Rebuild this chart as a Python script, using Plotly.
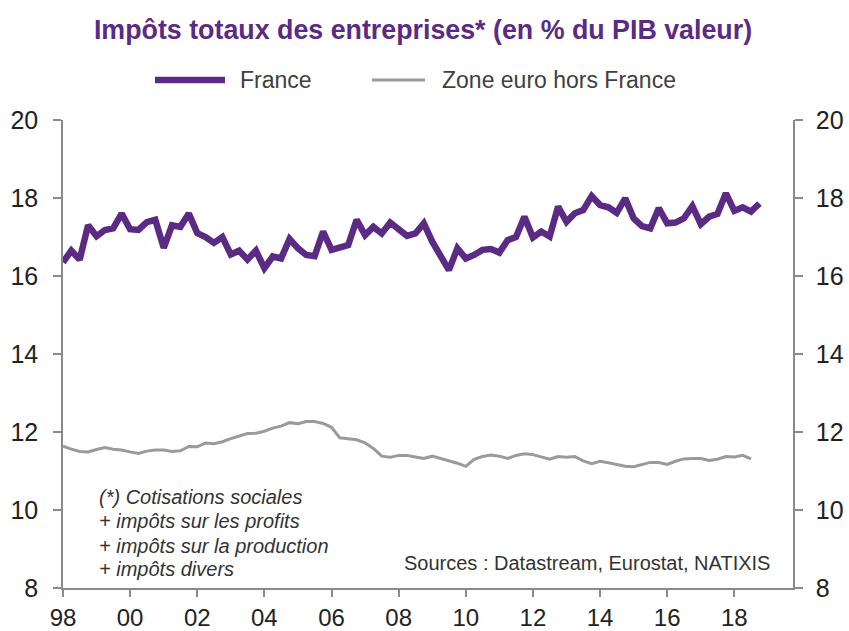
import pandas as pd
import plotly.graph_objects as go

# Quarterly data, 1998Q1 onward
start_quarter = "1998-01-01"

france = [16.35, 16.65, 16.42, 17.30, 17.02, 17.18, 17.22, 17.60, 17.20, 17.18,
          17.38, 17.44, 16.72, 17.30, 17.26, 17.60, 17.10, 17.00, 16.85, 17.00,
          16.55, 16.65, 16.42, 16.65, 16.20, 16.50, 16.45, 16.95, 16.71, 16.54,
          16.51, 17.14, 16.67, 16.75, 16.79, 17.44, 17.05, 17.26, 17.09, 17.37,
          17.22, 17.03, 17.09, 17.35, 16.88, 16.54, 16.15, 16.71, 16.45, 16.54,
          16.67, 16.69, 16.60, 16.92, 17.00, 17.52, 16.99, 17.14, 17.01, 17.78,
          17.39, 17.61, 17.69, 18.05, 17.82, 17.76, 17.62, 17.99, 17.48, 17.28,
          17.22, 17.74, 17.35, 17.37, 17.48, 17.79, 17.33, 17.52, 17.59, 18.12,
          17.67, 17.76, 17.65, 17.86]

zone_euro = [11.64, 11.56, 11.50, 11.49, 11.55, 11.60, 11.56, 11.54, 11.49, 11.45,
             11.51, 11.54, 11.54, 11.50, 11.52, 11.63, 11.62, 11.72, 11.70, 11.75,
             11.83, 11.90, 11.96, 11.97, 12.02, 12.10, 12.15, 12.24, 12.21, 12.27,
             12.27, 12.22, 12.12, 11.85, 11.83, 11.80, 11.72, 11.58, 11.38, 11.35,
             11.40, 11.40, 11.36, 11.32, 11.38, 11.32, 11.27, 11.20, 11.12, 11.30,
             11.37, 11.41, 11.38, 11.32, 11.40, 11.44, 11.42, 11.35, 11.30, 11.37,
             11.35, 11.37, 11.26, 11.19, 11.25, 11.21, 11.16, 11.12, 11.11, 11.16,
             11.22, 11.22, 11.17, 11.25, 11.31, 11.32, 11.32, 11.27, 11.30, 11.37,
             11.36, 11.40, 11.31]

series_names = ["France", "Zone euro hors France"]
year_ticks = [str(y) for y in range(1998, 2019, 2)]
year_labels = ["98", "00", "02", "04", "06", "08", "10", "12", "14", "16", "18"]
y_ticks = [8, 10, 12, 14, 16, 18, 20]
note_lines = ["(*) Cotisations sociales", "+ impôts sur les profits",
              "+ impôts sur la production", "+ impôts divers"]
source_text = "Sources : Datastream, Eurostat, NATIXIS"

x_fr = pd.date_range(start_quarter, periods=len(france), freq="QS")
x_ze = pd.date_range(start_quarter, periods=len(zone_euro), freq="QS")

PURPLE = "#5B2A84"
GREY = "#9a9a9a"
AXIS = "#8a8a8a"
FONT = "Liberation Sans"
W, H = 849, 631

fig = go.Figure()
fig.add_trace(go.Scatter(x=x_fr, y=france, name=series_names[0], mode="lines",
                         line=dict(color=PURPLE, width=6.5)))
fig.add_trace(go.Scatter(x=x_ze, y=zone_euro, name=series_names[1], mode="lines",
                         line=dict(color=GREY, width=3), yaxis="y2"))

tickfont = dict(size=25, color="#222222", family=FONT)
fig.update_layout(
    width=W, height=H,
    margin=dict(l=63, r=56, t=120, b=43, autoexpand=False),
    paper_bgcolor="white", plot_bgcolor="white",
    font=dict(family=FONT, color="#222222"),
    title=dict(text="<b>Impôts totaux des entreprises* (en % du PIB valeur)</b>",
               x=423 / W, xanchor="center", xref="container",
               y=1 - 30 / H, yanchor="middle", yref="container",
               font=dict(size=26.8, color=PURPLE, family=FONT)),
    showlegend=False,
    xaxis=dict(type="date", range=["1998-01-01", "2019-10-01"],
               tickvals=year_ticks, ticktext=year_labels,
               showgrid=False, zeroline=False, automargin=False,
               showline=True, linecolor=AXIS, linewidth=1.5,
               ticks="outside", ticklen=7, tickcolor=AXIS, tickwidth=1.5,
               ticklabelstandoff=0, tickfont=dict(size=24, color="#222222", family=FONT)),
    yaxis=dict(range=[8, 20], tickvals=y_ticks, showgrid=False, zeroline=False,
               automargin=False,
               showline=True, linecolor=AXIS, linewidth=1.5,
               ticks="outside", ticklen=8, tickcolor=AXIS, tickwidth=1.5,
               ticklabelstandoff=10, tickfont=tickfont),
    yaxis2=dict(range=[8, 20], tickvals=y_ticks, overlaying="y", side="right",
                showgrid=False, zeroline=False, automargin=False,
                showline=True, linecolor=AXIS, linewidth=1.5,
                ticks="outside", ticklen=8, tickcolor=AXIS, tickwidth=1.5,
                ticklabelstandoff=8, tickfont=tickfont),
)

# Legend (drawn as samples + labels in the header area)
legend_items = [(series_names[0], PURPLE, 6.5, 155, 225, 238),
                (series_names[1], GREY, 3, 372, 425, 440)]
for name, color, width, x0, x1, xt in legend_items:
    fig.add_shape(type="line", xref="paper", yref="paper",
                  x0=(x0 - 63) / 730, x1=(x1 - 63) / 730,
                  y0=(588 - 80) / 468, y1=(588 - 80) / 468,
                  line=dict(color=color, width=width))
    fig.add_annotation(text=name, xref="paper", yref="paper",
                       x=(xt - 63) / 730, y=(588 - 80) / 468,
                       xanchor="left", yanchor="middle", showarrow=False,
                       font=dict(size=23, color="#404040", family=FONT))

note_y = [497, 521, 546, 569]
for line, py in zip(note_lines, note_y):
    fig.add_annotation(text="<i>" + line + "</i>", xref="paper", yref="paper",
                       x=(97 - 63) / 730, y=(588 - py) / 468, xanchor="left", yanchor="middle",
                       align="left", showarrow=False,
                       font=dict(size=20, color="#333333", family=FONT))
fig.add_annotation(text=source_text, xref="paper", yref="paper",
                   x=(772 - 63) / 730, y=(588 - 563) / 468, xanchor="right", yanchor="middle",
                   align="right", showarrow=False,
                   font=dict(size=20, color="#333333", family=FONT))

fig.write_html("out.html", config={"displayModeBar": False},
               post_script="document.body.style.margin='0px';document.body.style.overflow='hidden';")
